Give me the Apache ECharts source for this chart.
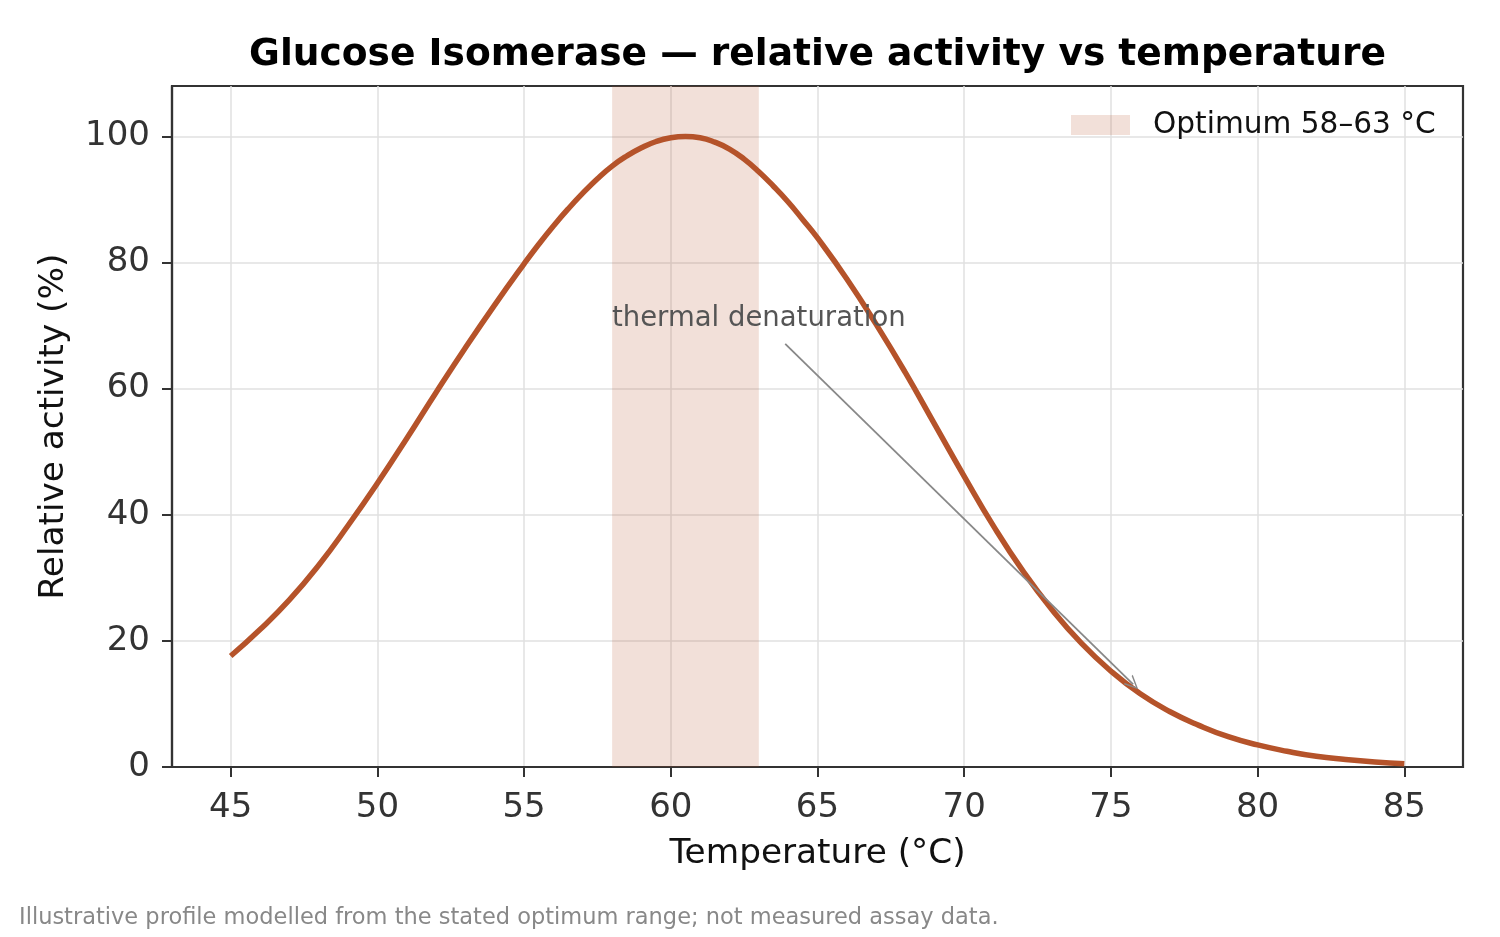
<!DOCTYPE html>
<html>
<head>
<meta charset="utf-8">
<title>Glucose Isomerase</title>
<script src="https://cdn.jsdelivr.net/npm/echarts@6/dist/echarts.min.js"></script>
<style>
html, body { margin: 0; padding: 0; background: #fff; }
#chart { width: 1500px; height: 937px; }
</style>
</head>
<body>
<div id="chart"></div>
<script>
// temperature (°C) and relative activity (%), denser round the peak
const temps = [45, 46, 47, 48, 49, 50, 51, 52, 53, 54, 55, 55.5, 56, 56.5, 57, 57.5, 58, 58.5, 59, 59.5, 60,
    60.5, 61, 61.5, 62, 62.5, 63, 63.5, 64, 64.5, 65, 66, 67, 68, 69, 70, 71, 72, 73, 74, 75,
    76, 77, 78, 79, 80, 81, 82, 83, 84, 85]
const activity = [17.6, 21.8, 26.5, 32.0, 38.3, 45.0, 52.1, 59.4, 66.5, 73.3, 79.8, 82.9, 85.8, 88.5, 91.0, 93.3, 95.3, 96.9, 98.2, 99.2, 99.8,
    100.0, 99.8, 99.1, 98.0, 96.4, 94.4, 92.1, 89.6, 86.8, 83.9, 77.4, 70.2, 62.5, 54.3, 46.1, 38.2, 31.1, 24.9, 19.6, 15.2,
    11.6, 8.8, 6.6, 4.8, 3.5, 2.5, 1.7, 1.2, 0.8, 0.5]
const xTicks = [45, 50, 55, 60, 65, 70, 75, 80, 85]
const yTicks = [0, 20, 40, 60, 80, 100]
const bandRange = [58, 63]
const bandName = 'Optimum 58–63 °C'

const font = 'DejaVu Sans'
const curveColor = '#b5532a'
const bandColor = 'rgba(181, 83, 42, 0.18)'

const chart = echarts.init(document.getElementById('chart'), null, { renderer: 'canvas' })

const option = {
    animation: false,
    backgroundColor: '#fff',
    textStyle: { fontFamily: font },
    title: [{
        text: 'Glucose Isomerase — relative activity vs temperature',
        left: 817.5, top: 36, padding: 0, textAlign: 'center',
        textStyle: { fontFamily: font, fontSize: 37.6, fontWeight: 'bold', color: '#000' }
    }, {
        text: 'Illustrative profile modelled from the stated optimum range; not measured assay data.',
        left: 19, top: 907, padding: 0,
        textStyle: { fontFamily: font, fontSize: 22.5, fontWeight: 'normal', color: '#888' }
    }],
    legend: {
        left: 1071, top: 110, padding: 0,
        itemWidth: 59, itemHeight: 20,
        selectedMode: false,
        data: [{ name: bandName, icon: 'rect', itemStyle: { color: bandColor } }],
        textStyle: { fontFamily: font, fontSize: 29.6, color: '#111', padding: [0, 0, 0, 18] }
    },
    grid: {
        left: 172, right: 37, top: 86, bottom: 170,
        show: true, borderColor: '#333', borderWidth: 2.2
    },
    xAxis: {
        type: 'value', min: 43, max: 87,
        name: 'Temperature (°C)', nameLocation: 'middle', nameGap: 70,
        nameTextStyle: { fontFamily: font, fontSize: 34.3, color: '#111' },
        axisLine: { show: true, lineStyle: { color: '#333', width: 2.2 } },
        axisTick: { show: true, customValues: xTicks, length: 10, lineStyle: { color: '#333', width: 2 } },
        axisLabel: { customValues: xTicks, fontSize: 34, color: '#333', margin: 24 },
        splitLine: { show: true, lineStyle: { color: '#e0e0e0', width: 1.5 } }
    },
    yAxis: {
        type: 'value', min: 0, max: 108,
        name: 'Relative activity (%)', nameLocation: 'middle', nameGap: 101,
        nameTextStyle: { fontFamily: font, fontSize: 34.3, color: '#111' },
        axisLine: { show: true, lineStyle: { color: '#333', width: 2.2 } },
        axisTick: { show: true, customValues: yTicks, length: 10, lineStyle: { color: '#333', width: 2 } },
        axisLabel: { customValues: yTicks, fontSize: 34, color: '#333', margin: 22 },
        splitLine: { show: true, lineStyle: { color: '#e0e0e0', width: 1.5 } }
    },
    series: [{
        name: bandName,
        type: 'line',
        data: [],
        itemStyle: { color: bandColor },
        markArea: {
            silent: true,
            itemStyle: { color: bandColor },
            data: [[{ xAxis: bandRange[0] }, { xAxis: bandRange[1] }]]
        }
    }, {
        name: 'activity',
        type: 'line',
        data: temps.map((t, i) => [t, activity[i]]),
        smooth: 0.5,
        showSymbol: false,
        z: 3,
        lineStyle: { color: curveColor, width: 5.5 },
        itemStyle: { color: curveColor },
        markPoint: {
            silent: true,
            symbol: 'circle', symbolSize: 0,
            label: {
                show: true, position: 'inside', formatter: 'thermal denaturation',
                fontFamily: font, fontSize: 27.5, color: '#555'
            },
            data: [{ coord: [63, 71.1] }]
        },
        markLine: {
            silent: true,
            symbol: ['none', 'path://M0,12 L5,0 L10,12 L8.8,12 L5,2.8 L1.2,12 Z'],
            symbolSize: [13, 14],
            label: { show: false },
            lineStyle: { color: '#888', width: 1.8, type: 'solid' },
            data: [[{ coord: [63.9, 67.1] }, { coord: [75.76, 13.1] }]]
        }
    }]
}

chart.setOption(option)
</script>
</body>
</html>
